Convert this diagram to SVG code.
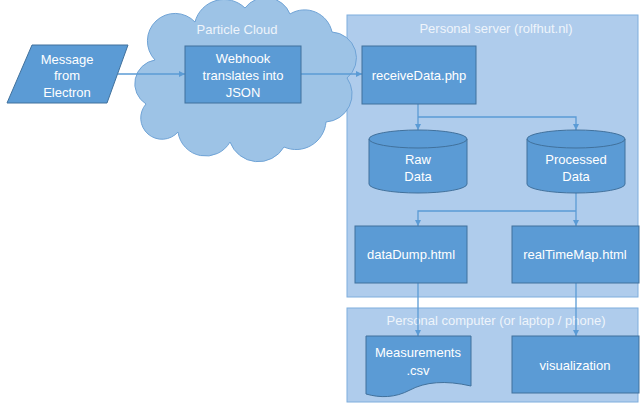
<svg xmlns="http://www.w3.org/2000/svg" width="642" height="403" viewBox="0 0 642 403">
<defs>
<style>
.box{fill:#5B9BD5;stroke:#41719C;stroke-width:1}
.cont{fill:#AFCCEC;stroke:#7FAEDD;stroke-width:1}
.t{font-family:"Liberation Sans",Arial,sans-serif;font-size:13px;fill:#FFFFFF;text-anchor:middle}
.title{font-family:"Liberation Sans",Arial,sans-serif;font-size:13px;fill:#EEF4FB;text-anchor:middle}
.c{fill:none;stroke:#5B9BD5;stroke-width:1.3}
</style>
<marker id="ah" viewBox="0 0 6 6" refX="6" refY="3" markerWidth="6" markerHeight="6" orient="auto" markerUnits="userSpaceOnUse">
<path d="M0,0 L6,3 L0,6 z" fill="#5B9BD5"/>
</marker>
</defs>
<rect width="642" height="403" fill="#FFFFFF"/>
<g id="server">
<rect class="cont" x="347" y="15" width="291" height="282"/>
<text class="title" x="496" y="33">Personal server (rolfhut.nl)</text>
</g>
<g id="computer">
<rect class="cont" x="347" y="308" width="291" height="94"/>
<text class="title" x="496" y="325">Personal computer (or laptop / phone)</text>
</g>
<g id="cloud">
<path d="M155,60 A22,22 0 0 1 195,22 A30,30 0 0 1 245,8 A26,26 0 0 1 290,14 A28,28 0 0 1 332,32 A26,26 0 0 1 347,78 A28,28 0 0 1 326,122 A30,30 0 0 1 284,147 A30,30 0 0 1 230,142 A28,28 0 0 1 178,132 A20,20 0 0 1 146,104 A24,24 0 0 1 155,60 Z" fill="#9DC3E6" stroke="#6FA3D6" stroke-width="1"/>
<text class="title" x="237" y="34">Particle Cloud</text>
</g>
<g id="connectors">
<line class="c" x1="118" y1="74" x2="185" y2="74" marker-end="url(#ah)"/>
<line class="c" x1="301" y1="74" x2="362" y2="74" marker-end="url(#ah)"/>
<polyline class="c" points="418,104 418,117 418,130" marker-end="url(#ah)"/>
<polyline class="c" points="418,117 576,117 576,130" marker-end="url(#ah)"/>
<polyline class="c" points="576,193 576,211 576,226" marker-end="url(#ah)"/>
<polyline class="c" points="576,211 418,211 418,226" marker-end="url(#ah)"/>
<line class="c" x1="418" y1="283" x2="418" y2="336" marker-end="url(#ah)"/>
<line class="c" x1="576" y1="283" x2="576" y2="336" marker-end="url(#ah)"/>
</g>
<g id="message">
<polygon class="box" points="32,45 128,45 107,103 7,103"/>
<text class="t" x="67" y="64">Message</text>
<text class="t" x="67" y="80">from</text>
<text class="t" x="67" y="97">Electron</text>
</g>
<g id="webhook">
<rect class="box" x="185" y="46" width="116" height="57"/>
<text class="t" x="243" y="63">Webhook</text>
<text class="t" x="243" y="80">translates into</text>
<text class="t" x="243" y="97">JSON</text>
</g>
<g id="receiveData">
<rect class="box" x="362" y="46" width="114" height="58"/>
<text class="t" x="419" y="80">receiveData.php</text>
</g>
<g id="rawData">
<path class="box" d="M369,139 A49,9 0 0 1 467,139 L467,184 A49,9 0 0 1 369,184 Z"/>
<path d="M369,139 A49,9 0 0 0 467,139" fill="none" stroke="#41719C" stroke-width="1"/>
<text class="t" x="418" y="164">Raw</text>
<text class="t" x="418" y="181">Data</text>
</g>
<g id="processedData">
<path class="box" d="M527,139 A49,9 0 0 1 625,139 L625,184 A49,9 0 0 1 527,184 Z"/>
<path d="M527,139 A49,9 0 0 0 625,139" fill="none" stroke="#41719C" stroke-width="1"/>
<text class="t" x="576" y="164">Processed</text>
<text class="t" x="576" y="181">Data</text>
</g>
<g id="dataDump">
<rect class="box" x="355" y="226" width="112" height="57"/>
<text class="t" x="411" y="259">dataDump.html</text>
</g>
<g id="realTimeMap">
<rect class="box" x="512" y="226" width="127" height="57"/>
<text class="t" x="575" y="259">realTimeMap.html</text>
</g>
<g id="measurements">
<path class="box" d="M366,336 L471,336 L471,386 C445,380 425,382 410,390 C395,398 380,398 366,394 Z"/>
<text class="t" x="418" y="357">Measurements</text>
<text class="t" x="418" y="375">.csv</text>
</g>
<g id="visualization">
<rect class="box" x="512" y="336" width="127" height="57"/>
<text class="t" x="575" y="370">visualization</text>
</g>
</svg>
